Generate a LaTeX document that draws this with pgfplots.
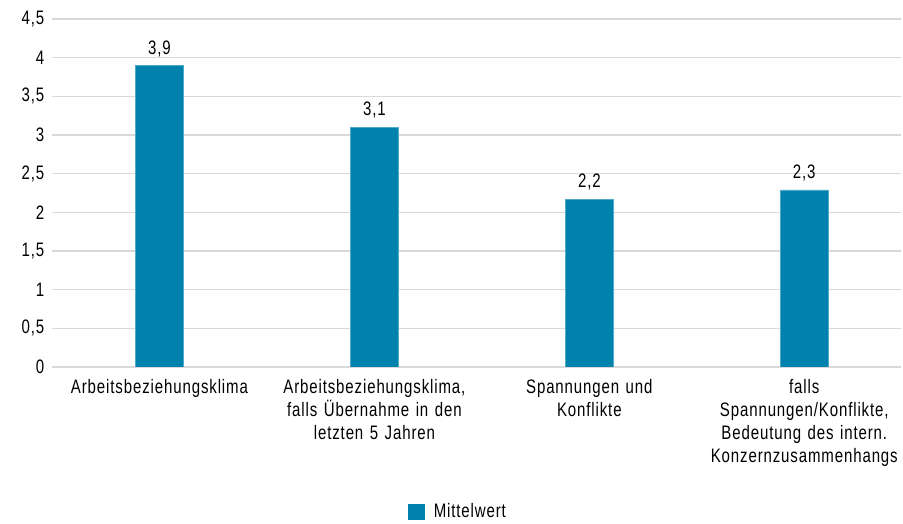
\documentclass[border=0pt]{standalone}
\usepackage{pgfplots}
\pgfplotsset{compat=1.18}
\usepackage{fontspec}
\setmainfont{Liberation Sans}[FakeStretch=0.77, LetterSpace=4.5]
\definecolor{barcol}{HTML}{0082AD}
\definecolor{baredge}{HTML}{4FA9CB}
\definecolor{gridcol}{HTML}{D9D9D9}
\newcommand{\lblfont}{\fontsize{19.5pt}{23pt}\selectfont}
\begin{document}
\lblfont
\begin{tikzpicture}
\path[use as bounding box] (-52pt,-157pt) rectangle (851pt,367pt);
\begin{axis}[
  at={(0pt,0pt)}, anchor=south west,
  scale only axis,
  width=849pt, height=348pt,
  xmin=-0.5, xmax=3.45,
  ymin=0, ymax=4.5,
  ytick={0,0.5,...,4.5},
  xtick={0,1,2,3},
  xticklabels={Arbeitsbeziehungsklima,{Arbeitsbeziehungsklima,\\falls Übernahme in den\\letzten 5 Jahren},{Spannungen und\\Konflikte},{falls\\Spannungen/Konflikte,\\Bedeutung des intern.\\Konzernzusammenhangs}},
  xticklabel style={align=center, text width=230pt, font=\lblfont, yshift=-6pt},
  yticklabel style={font=\lblfont, xshift=-1pt},
  /pgf/number format/assume math mode=true,
  /pgf/number format/use comma,
  axis line style={draw=none},
  major tick length=0pt,
  ymajorgrids,
  grid style={color=gridcol, line width=1.6pt},
  ybar, bar width=48pt,
  nodes near coords,
  nodes near coords style={font=\lblfont, /pgf/number format/fixed, /pgf/number format/precision=1, /pgf/number format/fixed zerofill, /pgf/number format/use comma, /pgf/number format/assume math mode=true, yshift=2pt},
  legend style={at={(0.478,-0.417)}, anchor=center, draw=none, font=\lblfont},
  legend image code/.code={\fill[barcol, draw=none] (0pt,-8pt) rectangle (17pt,8pt); \path[draw=none, fill=none] (0pt,0pt) rectangle (24pt,0.1pt);},
]
\addplot[fill=barcol, draw=baredge, line width=0.8pt] coordinates {(0,3.9) (1,3.1) (2,2.17) (3,2.29)};
\addlegendentry{Mittelwert}
\end{axis}
\end{tikzpicture}
\end{document}
